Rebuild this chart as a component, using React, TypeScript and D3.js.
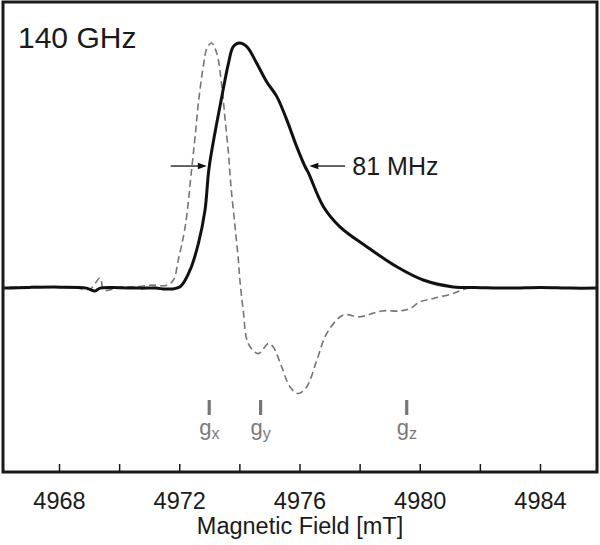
import React from "react";
import * as d3 from "d3";

// Solid trace: echo-detected absorption (normalised)
const fieldSolid = [4966.12, 4967.0, 4968.02, 4968.9, 4969.18, 4969.35, 4970.0, 4970.68, 4971.2, 4971.57, 4972.01, 4972.34, 4972.62, 4972.84, 4972.98, 4973.4, 4973.62, 4973.78, 4973.98, 4974.23, 4974.56, 4974.89, 4975.23, 4975.56, 4975.89, 4976.17, 4976.28, 4976.78, 4977.33, 4978.22, 4979.22, 4980.1, 4981.1, 4981.99, 4983.0, 4984.0, 4985.0, 4985.88];
const echoSolid = [0.0, 0.003, 0.004, 0.0, -0.012, 0.0, 0.002, 0.0, 0.0, -0.004, 0.006, 0.073, 0.182, 0.318, 0.495, 0.781, 0.917, 0.985, 1.0, 0.985, 0.917, 0.842, 0.781, 0.686, 0.577, 0.495, 0.47, 0.332, 0.25, 0.169, 0.087, 0.033, 0.005, 0.002, 0.0, 0.003, 0.0, 0.0];

// Dashed trace: pseudo-modulated derivative (normalised)
const fieldDashed = [4966.35, 4967.2, 4968.0, 4968.6, 4969.01, 4969.35, 4969.48, 4970.01, 4970.6, 4971.01, 4971.57, 4971.79, 4971.95, 4972.18, 4972.4, 4972.51, 4972.62, 4972.78, 4972.91, 4973.06, 4973.23, 4973.4, 4973.51, 4973.62, 4973.7, 4973.84, 4973.95, 4974.0, 4974.11, 4974.28, 4974.61, 4974.95, 4975.11, 4975.39, 4975.67, 4975.94, 4976.22, 4976.56, 4976.89, 4977.44, 4978.0, 4978.72, 4979.33, 4979.66, 4979.99, 4980.44, 4981.1, 4981.55, 4983.0, 4985.88];
const derivDashed = [0.004, 0.006, 0.004, 0.0, -0.004, 0.041, -0.008, 0.004, 0.006, 0.012, 0.012, 0.033, 0.114, 0.25, 0.49, 0.618, 0.755, 0.903, 0.98, 1.0, 0.958, 0.822, 0.686, 0.55, 0.42, 0.25, 0.114, 0.033, -0.09, -0.226, -0.267, -0.226, -0.24, -0.321, -0.403, -0.43, -0.403, -0.294, -0.185, -0.11, -0.117, -0.093, -0.093, -0.083, -0.056, -0.042, -0.022, -0.001, 0.0, 0.0];

// Axis
const tickMarks = [4968, 4970, 4972, 4974, 4976, 4978, 4980, 4982, 4984];
const tickLabels = [4968, 4972, 4976, 4980, 4984];
const xLabel = "Magnetic Field [mT]";
const title = "140 GHz";

// g-tensor markers
const gFields = [4972.98, 4974.69, 4979.55];
const gSubs = ["x", "y", "z"];

// Linewidth annotation
const fwhmLevel = [0.498];
const fwhmLeft = [4971.7, 4972.9];
const fwhmRight = [4977.5, 4976.31];
const fwhmText = "81 MHz";
const fwhmTextField = [4977.74];

const W = 600;
const H = 545;
const L = 3, R = 597, T = 2, B = 472;

export default function App() {
  const x = d3.scaleLinear().domain([4966.12, 4985.88]).range([L, R]);
  const y = d3.scaleLinear().domain([-0.75, 1.167]).range([B, T]);

  const line = d3
    .line<[number, number]>()
    .x((d) => x(d[0]))
    .y((d) => y(d[1]))
    .curve(d3.curveCatmullRom.alpha(0.5));

  const solidPath = line(fieldSolid.map((f, i) => [f, echoSolid[i]]) as [number, number][]) || "";
  const dashedPath = line(fieldDashed.map((f, i) => [f, derivDashed[i]]) as [number, number][]) || "";

  const font = "'Liberation Sans', Arial, Helvetica, sans-serif";
  const ay = y(fwhmLevel[0]);

  const arrow = (x1: number, x2: number) => {
    const dir = Math.sign(x2 - x1);
    const head = 9;
    const half = 3.2;
    return (
      <g>
        <line x1={x1} y1={ay} x2={x2 - dir * head * 0.8} y2={ay} stroke="#111" strokeWidth={1.3} />
        <path d={`M${x2},${ay} L${x2 - dir * head},${ay - half} L${x2 - dir * head},${ay + half} Z`} fill="#111" />
      </g>
    );
  };

  return (
    <svg
      width={W}
      height={H}
      style={{ position: "absolute", left: 0, top: 0, background: "#fff" }}
      fontFamily={font}
    >
      <rect x={0} y={0} width={W} height={H} fill="#fff" />
      <clipPath id="plotclip">
        <rect x={L} y={T} width={R - L} height={B - T} />
      </clipPath>

      <g clipPath="url(#plotclip)">
        <path d={dashedPath} fill="none" stroke="#757575" strokeWidth={1.6} strokeDasharray="7,4" />
        <path d={solidPath} fill="none" stroke="#111" strokeWidth={3} strokeLinejoin="round" />
      </g>

      {/* g markers */}
      {gFields.map((g, i) => (
        <g key={i}>
          <line x1={x(g)} x2={x(g)} y1={400} y2={415} stroke="#777" strokeWidth={3.2} />
          <text x={x(g) - 10} y={435} fontSize={22} fill="#7a7a7a">
            g
            <tspan fontSize={16} dy={4}>{gSubs[i]}</tspan>
          </text>
        </g>
      ))}

      {/* linewidth arrows */}
      {arrow(x(fwhmLeft[0]), x(fwhmLeft[1]))}
      {arrow(x(fwhmRight[0]), x(fwhmRight[1]))}
      <text x={x(fwhmTextField[0])} y={ay + 9} fontSize={25} fill="#1a1a1a">
        {fwhmText}
      </text>

      <text x={18} y={48} fontSize={30} fill="#1a1a1a">
        {title}
      </text>

      {/* frame */}
      <rect x={L} y={T} width={R - L} height={B - T} fill="none" stroke="#1a1a1a" strokeWidth={3} />

      {/* ticks */}
      {tickMarks.map((t) => (
        <line key={t} x1={x(t)} x2={x(t)} y1={B} y2={B - 8} stroke="#1a1a1a" strokeWidth={1.5} />
      ))}
      {tickLabels.map((t) => (
        <text key={t} x={x(t)} y={509} fontSize={23.5} textAnchor="middle" fill="#1a1a1a">
          {t}
        </text>
      ))}
      <text x={(L + R) / 2} y={534} fontSize={23.5} textAnchor="middle" fill="#1a1a1a">
        {xLabel}
      </text>
    </svg>
  );
}
